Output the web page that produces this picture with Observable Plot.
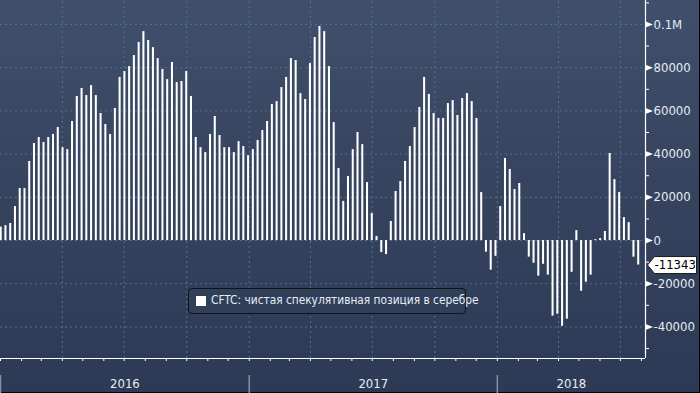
<!DOCTYPE html>
<html>
<head>
<meta charset="utf-8">
<script src="https://cdn.jsdelivr.net/npm/d3@7"></script>
<script src="https://cdn.jsdelivr.net/npm/@observablehq/plot@0.6"></script>
<style>
  html, body { margin: 0; padding: 0; background: #000; }
  #wrap { position: relative; width: 700px; height: 393px; overflow: hidden; background: #000; }
  #legend {
    position: absolute; left: 188px; top: 288px; width: 276px; height: 24px;
    border: 1px solid #101418; border-radius: 4px; background: #30405b;
    font-family: "DejaVu Sans Condensed", "DejaVu Sans", sans-serif; font-size: 11.8px; color: #e8edf3;
    box-sizing: content-box;
  }
  #legend .sw { position: absolute; left: 7px; top: 7px; width: 10px; height: 10px; background: #fff; }
  #legend .lb { position: absolute; left: 22px; top: 4px; white-space: nowrap; }
</style>
</head>
<body>
<div id="wrap"><div id="legend"><span class="sw"></span><span class="lb"></span></div></div>
<script>
// ---- data ----
const seriesName = "CFTC: чистая спекулятивная позиция в серебре";
const firstWeek = "2016-01-02";
const values = [
  6200, 6900, 7900, 15700, 24100, 24100, 36600, 44900, 47700, 45400,
  47700, 49100, 52300, 43000, 42100, 55100, 66700, 70400, 67100, 71700,
  67100, 58800, 53700, 49100, 61100, 75500, 78200, 80500, 85600, 91700,
  96700, 92600, 89300, 84200, 79200, 74500, 82400, 73100, 73600, 78200,
  66700, 47700, 43000, 40700, 49100, 57400, 48600, 43000, 43000, 40700,
  45800, 43500, 39300, 42100, 46300, 50900, 55100, 63000, 64300, 70800,
  75500, 84200, 83300, 68000, 65300, 81900, 94000, 99100, 96700, 80500,
  54600, 33300, 18100, 29600, 42100, 50000, 44400, 26800, 12500, 1900,
  -5600, -6500, 8800, 22700, 27300, 36600, 43500, 52300, 61600, 75500,
  67600, 58800, 56500, 56500, 63400, 64800, 57900, 65700, 68000, 64300,
  56500, 22200, -5400, -13700, -7300, 15700, 38000, 32900, 23600, 26400,
  3200, -7700, -10500, -16500, -11000, -16000, -35000, -34100, -39700, -36400,
  -14700, 4600, -23500, -19300, -16000, 400, 900, 4200, 40300, 28200,
  22200, 10600, 8300, -7700, -11343
];
const lastValue = -11343;
const yTicks = [-40000, -20000, 0, 20000, 40000, 60000, 80000, 100000];
const yTickLabels = ["-40000", "-20000", "0", "20000", "40000", "60000", "80000", "0.1M"];
const yMinorTicks = [-50000, -30000, -10000, 10000, 30000, 50000, 70000, 90000, 110000];
const years = ["2016", "2017", "2018"];

// ---- build ----
const DAY = 864e5;
const start0 = new Date(firstWeek + "T00:00:00Z");
const data = values.map((v, i) => ({date: new Date(+start0 + i * 7 * DAY), value: v}));
const xStart = new Date(Date.UTC(2016, 0, 1));
const xEnd = new Date(Date.UTC(2018, 7, 7));
const yMin = -54600, yMax = 111100;
const quarters = d3.utcMonth.every(3).range(xStart, xEnd).slice(1);
const months = d3.utcMonth.range(xStart, xEnd);
const yearStarts = years.map(y => new Date(Date.UTC(+y, 0, 1)));
const yearCenters = years.map((y, i) => {
  const a = Math.max(+yearStarts[i], +xStart);
  const b = Math.min(+new Date(Date.UTC(+y + 1, 0, 1)), +xEnd);
  return new Date((a + b) / 2);
});

const tri = {draw(ctx) { ctx.moveTo(0, -3); ctx.lineTo(7.5, 0); ctx.lineTo(0, 3); ctx.closePath(); }};
const box = {draw(ctx) { ctx.moveTo(2, 0); ctx.lineTo(9, -8.5); ctx.lineTo(51, -8.5); ctx.lineTo(51, 8.5); ctx.lineTo(9, 8.5); ctx.closePath(); }};

const font = "'DejaVu Sans Condensed', 'DejaVu Sans', sans-serif";
const H = 392, W = 699, mB = 34;
const pxPerUnit = (H - mB) / (yMax - yMin);
const belowPx = px => yMin - px / pxPerUnit;

const chart = Plot.plot({
  width: W, height: H,
  marginLeft: 0, marginRight: W - 645, marginTop: 0, marginBottom: mB,
  style: {background: "linear-gradient(180deg, #404f6b 0%, #36445f 45%, #2d3a56 100%)", fontFamily: font, overflow: "visible"},
  x: {type: "utc", domain: [xStart, xEnd], axis: null},
  y: {domain: [yMin, yMax], axis: null},
  marks: [
    Plot.ruleY(yTicks, {stroke: "#52718f", strokeDasharray: "2,3", strokeWidth: 1}),
    Plot.ruleX(quarters, {y1: yMin, y2: yMax, stroke: "#52718f", strokeDasharray: "2,3", strokeWidth: 1}),
    Plot.rectY(data, {x1: d => new Date(+d.date - 1.5 * DAY), x2: d => new Date(+d.date + 1.5 * DAY), y: "value", fill: "#ffffff"}),
    Plot.ruleX([xEnd], {y1: yMin, y2: yMax, stroke: "#ffffff", strokeWidth: 1.2}),
    Plot.ruleY([yMin], {x1: xStart, x2: xEnd, stroke: "#ffffff", strokeWidth: 1.2}),
    Plot.axisX({ticks: months, tickSize: 3, tickFormat: () => "", stroke: "#ffffff", label: null}),
    Plot.axisY({anchor: "right", ticks: yMinorTicks, tickSize: 3, tickFormat: () => "", stroke: "#ffffff", label: null}),
    Plot.dot(yTicks, {x: () => xEnd, y: d => d, symbol: tri, fill: "#ffffff", stroke: null}),
    Plot.text(yTicks, {x: () => xEnd, y: d => d, text: (d, i) => yTickLabels[i], dx: 8, textAnchor: "start", fill: "#e6ecf4", fontSize: 13}),
    Plot.dot([lastValue], {x: () => xEnd, y: d => d, symbol: box, fill: "#ffffff", stroke: "#1a1a1a", strokeWidth: 1}),
    Plot.text([lastValue], {x: () => xEnd, y: d => d, text: d => String(d), dx: 9, textAnchor: "start", fill: "#000000", fontSize: 13}),
    Plot.ruleX(yearStarts, {y1: belowPx(17), y2: belowPx(36), stroke: "#8a8f99", strokeWidth: 1.5}),
    Plot.text(years, {x: (d, i) => yearCenters[i], y: () => belowPx(25), text: d => d, fill: "#e8edf3", fontSize: 13})
  ]
});
document.getElementById("wrap").prepend(chart);
document.querySelector("#legend .lb").textContent = seriesName;
</script>
</body>
</html>
